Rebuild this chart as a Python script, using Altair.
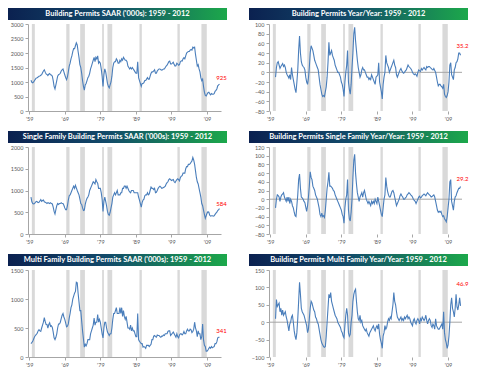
import altair as alt
import pandas as pd

TITLES = [
    "Building Permits SAAR ('000s): 1959 - 2012",
    "Building Permits Year/Year: 1959 - 2012",
    "Single Family Building Permits SAAR ('000s): 1959 - 2012",
    "Building Permits Single Family Year/Year: 1959 - 2012",
    "Multi Family Building Permits SAAR ('000s): 1959 - 2012",
    "Building Permits Multi Family Year/Year: 1959 - 2012",
]

# quarterly values, levels from 1960Q1, last point Jan 2013
TOTAL = [
    1060, 990, 970, 1000,
    1050, 1100, 1140, 1150,
    1170, 1200, 1210, 1230,
    1250, 1320, 1380, 1420,
    1340, 1280, 1260, 1220,
    1270, 1290, 1250, 1240,
    1200, 1050, 850, 760,
    900, 1050, 1200, 1250,
    1270, 1300, 1380, 1420,
    1450, 1350, 1250, 1150,
    1080, 1180, 1350, 1550,
    1650, 1800, 1900, 2050,
    2150, 2150, 2250, 2350,
    2280, 2050, 1850, 1600,
    1500, 1300, 1050, 850,
    720, 900, 950, 1050,
    1150, 1200, 1300, 1450,
    1550, 1650, 1750, 1850,
    1700, 1850, 1800, 1900,
    1650, 1700, 1650, 1450,
    1200, 850, 1250, 1450,
    1350, 1150, 950, 850,
    800, 900, 1000, 1200,
    1500, 1650, 1700, 1700,
    1800, 1750, 1650, 1650,
    1750, 1700, 1800, 1750,
    1850, 1800, 1750, 1750,
    1700, 1550, 1500, 1450,
    1500, 1450, 1500, 1450,
    1400, 1350, 1300, 1300,
    1700, 1150, 1050, 950,
    850, 950, 950, 980,
    1050, 1050, 1100, 1150,
    1100, 1100, 1200, 1300,
    1350, 1350, 1380, 1420,
    1300, 1300, 1380, 1420,
    1450, 1450, 1420, 1410,
    1420, 1450, 1450, 1500,
    1550, 1580, 1640, 1700,
    1720, 1620, 1620, 1650,
    1680, 1600, 1550, 1560,
    1650, 1620, 1580, 1600,
    1700, 1730, 1720, 1800,
    1840, 1800, 1900, 2000,
    2030, 2050, 2050, 2100,
    2120, 2100, 2200, 2180,
    2200, 1950, 1750, 1550,
    1600, 1450, 1350, 1150,
    1050, 1100, 850, 650,
    540, 520, 580, 630,
    650, 600, 560, 600,
    580, 580, 600, 680,
    710, 760, 870, 900,
    925,
]

SINGLE = [
    850, 740, 700, 690,
    700, 730, 750, 740,
    720, 730, 760, 790,
    750, 770, 780, 740,
    730, 720, 700, 720,
    710, 700, 720, 700,
    690, 620, 520, 460,
    560, 650, 700, 680,
    700, 700, 720, 700,
    700, 660, 600, 560,
    560, 650, 780, 880,
    900, 950, 1000, 1050,
    1100, 1050, 1120, 1060,
    1000, 950, 900, 800,
    700, 680, 600, 540,
    550, 680, 760, 820,
    850, 900, 1000, 1050,
    1100, 1150, 1200, 1180,
    1150, 1250, 1200, 1170,
    1050, 1050, 1050, 950,
    800, 520, 750, 850,
    750, 650, 520, 450,
    430, 500, 600, 700,
    850, 900, 950, 900,
    950, 1000, 900, 900,
    900, 950, 950, 1050,
    1050, 1100, 1100, 1050,
    1100, 1050, 1000, 970,
    950, 1000, 1000, 1000,
    950, 950, 950, 950,
    950, 850, 780, 700,
    620, 720, 780, 800,
    880, 900, 900, 950,
    900, 920, 1000, 1080,
    1050, 1050, 1020, 1050,
    950, 960, 1000, 1050,
    1080, 1100, 1080, 1050,
    1060, 1070, 1080, 1100,
    1150, 1180, 1200, 1250,
    1270, 1250, 1230, 1240,
    1250, 1200, 1180, 1220,
    1250, 1270, 1250, 1220,
    1300, 1330, 1340, 1400,
    1400, 1400, 1500, 1550,
    1550, 1600, 1600, 1620,
    1650, 1680, 1760, 1700,
    1600, 1450, 1300, 1200,
    1150, 1050, 950, 850,
    700, 650, 550, 450,
    360, 420, 480, 510,
    500, 430, 410, 420,
    420, 410, 420, 450,
    480, 500, 540, 560,
    584,
]

MULTI = [
    230, 250, 270, 310,
    350, 370, 390, 410,
    450, 470, 450, 440,
    500, 550, 600, 680,
    610, 560, 560, 500,
    560, 590, 530, 540,
    510, 430, 330, 300,
    340, 400, 500, 570,
    570, 600, 660, 720,
    750, 690, 650, 590,
    520, 530, 570, 670,
    750, 850, 900, 1000,
    1050, 1100, 1130, 1290,
    1280, 1100, 950, 800,
    800, 620, 450, 310,
    170, 220, 190, 230,
    300, 300, 300, 400,
    450, 500, 550, 670,
    550, 600, 600, 730,
    600, 650, 600, 500,
    400, 330, 500, 600,
    600, 500, 430, 400,
    370, 400, 400, 500,
    650, 750, 750, 800,
    850, 750, 750, 750,
    850, 750, 850, 700,
    800, 700, 650, 700,
    600, 500, 500, 480,
    550, 450, 500, 450,
    450, 400, 350, 350,
    750, 300, 270, 250,
    230, 230, 170, 180,
    170, 150, 200, 200,
    200, 180, 200, 220,
    300, 300, 360, 370,
    350, 340, 380, 370,
    370, 350, 340, 360,
    360, 380, 370, 400,
    400, 400, 440, 450,
    450, 370, 390, 410,
    430, 400, 370, 340,
    400, 350, 330, 380,
    400, 400, 380, 400,
    440, 400, 400, 450,
    480, 450, 450, 480,
    470, 420, 440, 480,
    600, 500, 450, 350,
    450, 400, 400, 300,
    350, 570, 300, 200,
    180, 100, 100, 120,
    150, 170, 150, 180,
    160, 170, 180, 230,
    230, 260, 330, 340,
    341,
]

# quarterly year/year % changes from 1961Q1, last point Jan 2013
TOTAL_YOY = [
    -10, 10, 20, 22,
    15, 8, 12, 15,
    18, 12, 15, 10,
    0, -5, -8, -12,
    -5, -15, 10, -5,
    -15, -25, -35, -42,
    -20, 5, 45, 75,
    40, 22, 15, 12,
    10, 5, -10, -20,
    -25, -12, 10, 40,
    55, 50, 45, 35,
    25, 20, 15, 10,
    5, -10, -25, -35,
    -45, -50, -48, -50,
    -40, -30, -10, 20,
    62, 35, 40, 45,
    35, 30, 25, 15,
    10, 5, 0, 0,
    -5, -10, -20, -25,
    -35, -50, -20, 0,
    15, 45, -20, -35,
    -45, -25, 10, 40,
    80, 93, 65, 45,
    25, 10, 0, -10,
    -5, 5, 10, 5,
    5, 0, -5, -10,
    -10, -15, -12, -15,
    -5, -10, -15, -20,
    -25, -10, -8, -5,
    20, -20, -30, -40,
    -55, -25, -10, 0,
    35, 20, 15, 10,
    0, 5, 10, 15,
    20, 25, 15, 10,
    -5, -10, -5, 0,
    5, 8, 3, 0,
    -2, 0, 3, 5,
    10, 15, 12, 10,
    8, 5, 0, -3,
    -5, -3, -5, -8,
    0, 5, 3, 2,
    8, 5, 8, 10,
    7, 5, 12, 10,
    12, 12, 10, 8,
    6, 5, 8, 4,
    0, -10, -20, -28,
    -25, -25, -28, -30,
    -33, -25, -45, -50,
    -52, -48, -40, -20,
    15, 20, -5, -10,
    -15, 5, 10, 20,
    22, 28, 40, 40,
    35.2,
]

SINGLE_YOY = [
    -20, 0, 10, 8,
    5, -5, 5, 10,
    12, 15, 5, 0,
    -5, 5, -5, 5,
    -10, 0, -5, -15,
    -20, -30, -38, -40,
    -15, 10, 45, 58,
    25, 5, 3, 0,
    -5, -8, -18, -28,
    -15, 5, 30, 63,
    50, 45, 30, 25,
    20, 10, 5, 0,
    -10, -20, -35, -40,
    -32, -40, -38, -42,
    -25, 0, 25, 40,
    62, 30, 30, 28,
    25, 20, 18, 10,
    5, 0, -5, -10,
    -15, -20, -25, -35,
    -40, -55, -20, 0,
    10, 45, -25, -45,
    -50, -30, 0, 50,
    90, 103, 60, 35,
    15, 5, -5, 5,
    10, 15, 5, 15,
    20, 10, 0, -5,
    -10, -5, -10, -15,
    -5, -10, -5, -10,
    0, -5, -10, 5,
    -5, -15, -25, -35,
    -40, -20, 0, 10,
    50, 30, 18, 10,
    5, 5, 12, 18,
    20, 15, 5, -5,
    -15, -10, -5, 0,
    8, 12, 8, 5,
    0, 0, 3, 5,
    10, 12, 15, 13,
    10, 8, 5, 0,
    -3, -5, -10, -5,
    0, 5, 7, 3,
    5, 8, 10, 12,
    10, 8, 12, 15,
    12, 10, 8, 5,
    6, 8, 10, 5,
    -5, -15, -25, -30,
    -28, -30, -28, -35,
    -40, -38, -45, -48,
    -52, -40, -20, 0,
    40, 45, -5, -15,
    -25, -5, 5, 8,
    15, 20, 25, 25,
    29.2,
]

MULTI_YOY = [
    10, 65, 45, 50,
    55, 30, 40, 20,
    35, 20, 25, 30,
    15, 5, -10, -25,
    -5, 0, 15, 20,
    0, -25, -40, -50,
    -30, 10, 60, 115,
    80, 40, 30, 25,
    20, 10, 0, -10,
    -30, -20, 10, 40,
    60, 55, 45, 35,
    30, 15, 10, 0,
    -5, -20, -35, -50,
    -60, -65, -70, -72,
    -70, -40, 0, 40,
    80, 70, 85, 60,
    50, 40, 30, 20,
    15, 10, 0, -5,
    -10, -15, -25, -30,
    -40, -45, -10, 20,
    40, 20, -30, -40,
    -35, 0, 20, 60,
    80, 90, 95, 60,
    30, 10, 5, 20,
    0, 5, -10, -15,
    -20, -25, -20, -30,
    -35, -40, -30, -25,
    -20, -15, -10, -20,
    -25, -15, -10, -20,
    -5, -35, -50, -60,
    -75, -40, -30, -10,
    -20, -15, 0, 10,
    5, 15, 10, 30,
    50, 85, 60, 50,
    30, 15, 10, 5,
    10, 15, 5, 10,
    5, 15, 10, 15,
    20, 10, 15, 10,
    0, -5, -10, 5,
    10, 0, -5, 5,
    10, 5, -5, 10,
    5, 15, 10, 5,
    10, 20, 5, -5,
    5, 10, 5, -10,
    -15, -5, -10, -20,
    10, -10, -15, -20,
    -20, -15, -10, -5,
    -20, 30, -30, -50,
    -60, -75, -65, -40,
    0, 50, 70, 40,
    30, 15, 40, 80,
    45, 35, 50, 70,
    46.9,
]

LAST_LABELS = ["925", "35.2", "584", "29.2", "341", "46.9"]

REC_START = ["1960-04-01", "1969-12-01", "1973-11-01", "1980-01-01",
             "1981-07-01", "1990-07-01", "2001-03-01", "2007-12-01"]
REC_END = ["1961-02-01", "1970-11-01", "1975-03-01", "1980-07-01",
           "1982-11-01", "1991-03-01", "2001-11-01", "2009-06-01"]

TICK_YEARS = [1959, 1969, 1979, 1989, 1999, 2009]

Y_TICKS = [
    [0, 500, 1000, 1500, 2000, 2500, 3000],
    [-80, -60, -40, -20, 0, 20, 40, 60, 80, 100],
    [0, 500, 1000, 1500, 2000],
    [-80, -60, -40, -20, 0, 20, 40, 60, 80, 100, 120],
    [0, 500, 1000, 1500],
    [-100, -50, 0, 50, 100, 150],
]

W, H = 193, 87
LINE_COLOR = "#4a7ebb"
BAND_COLOR = "#d9d9d9"
AXIS_COLOR = "#a6a6a6"
LABEL_COLOR = "#595959"
FONT = "Lato"

GRAD = {
    "gradient": "linear",
    "x1": 0, "x2": 1, "y1": 0, "y2": 0,
    "stops": [
        {"offset": 0, "color": "#0b2150"},
        {"offset": 0.45, "color": "#124a6a"},
        {"offset": 1, "color": "#1ca84b"},
    ],
}


def panel(title, values, start, yticks, last_label, label_dy, yoy):
    dates = pd.date_range(start=start, periods=len(values), freq="QS").strftime("%Y-%m-%d")
    df = pd.DataFrame({"date": list(dates), "value": values})
    last = df.tail(1).assign(label=last_label)
    bands_df = pd.DataFrame({"date": REC_START, "date2": REC_END})
    xscale = alt.Scale(domain=[alt.DateTime(year=1959, month=3, date=1),
                               alt.DateTime(year=2013, month=6, date=1)])
    yscale = alt.Scale(domain=[yticks[0], yticks[-1]], nice=False, zero=False)
    xaxis = alt.Axis(
        values=[alt.DateTime(year=y, month=7, date=1) for y in TICK_YEARS],
        labelExpr="\"'\" + timeFormat(datum.value, '%y')",
        domain=not yoy, ticks=True, title=None,
    )
    yaxis = alt.Axis(values=yticks, format="d", title=None)
    x_enc = alt.X("date:T", scale=xscale, axis=xaxis)
    y_enc = alt.Y("value:Q", scale=yscale, axis=yaxis)

    bands = alt.Chart(bands_df).mark_rect(color=BAND_COLOR).encode(
        x=x_enc, x2="date2:T"
    )
    line = alt.Chart(df).mark_line(color=LINE_COLOR, strokeWidth=1.1).encode(
        x=x_enc, y=y_enc
    )
    lab = alt.Chart(last).mark_text(
        color="#ff0000", fontSize=6, font=FONT, align="center", dx=2, dy=label_dy
    ).encode(x=x_enc, y=y_enc, text="label:N")
    tdf = pd.DataFrame({"t": [title]})
    banner = alt.Chart(tdf).mark_rect(fill=GRAD).encode(
        x=alt.value(-20), x2=alt.value(W + 6), y=alt.value(-16), y2=alt.value(-4)
    )
    btext = alt.Chart(tdf).mark_text(
        color="white", fontWeight="bold", fontSize=7.5, font=FONT,
        align="center", baseline="middle",
    ).encode(x=alt.value((W - 14) / 2), y=alt.value(-10), text="t:N")
    layers = [bands]
    if yoy:
        zdf = pd.DataFrame({"value": [0]})
        zero = alt.Chart(zdf).mark_rule(color=AXIS_COLOR, strokeWidth=1).encode(y=y_enc)
        layers.append(zero)
    layers += [line, lab, banner, btext]
    return alt.layer(*layers).properties(width=W, height=H)


p1 = panel(TITLES[0], TOTAL, "1960-01-01", Y_TICKS[0], LAST_LABELS[0], -6, False)
p2 = panel(TITLES[1], TOTAL_YOY, "1961-01-01", Y_TICKS[1], LAST_LABELS[1], -9, True)
p3 = panel(TITLES[2], SINGLE, "1960-01-01", Y_TICKS[2], LAST_LABELS[2], -5, False)
p4 = panel(TITLES[3], SINGLE_YOY, "1961-01-01", Y_TICKS[3], LAST_LABELS[3], -7, True)
p5 = panel(TITLES[4], MULTI, "1960-01-01", Y_TICKS[4], LAST_LABELS[4], -6, False)
p6 = panel(TITLES[5], MULTI_YOY, "1961-01-01", Y_TICKS[5], LAST_LABELS[5], -22, True)

chart = alt.vconcat(
    alt.hconcat(p1, p2, spacing=22),
    alt.hconcat(p3, p4, spacing=22),
    alt.hconcat(p5, p6, spacing=22),
    spacing=9,
).properties(
    padding={"left": 0, "top": 0, "right": 0, "bottom": 0},
    background="white",
).configure_view(
    stroke=None
).configure_axis(
    labelFontSize=5.5, labelColor=LABEL_COLOR, labelFont=FONT,
    labelOverlap=False, labelFlush=False, labelBound=False,
    domainColor=AXIS_COLOR, tickColor=AXIS_COLOR, tickSize=3,
    labelPadding=2, grid=False,
)

chart.save("out.html", embed_options={"renderer": "svg", "actions": False})
